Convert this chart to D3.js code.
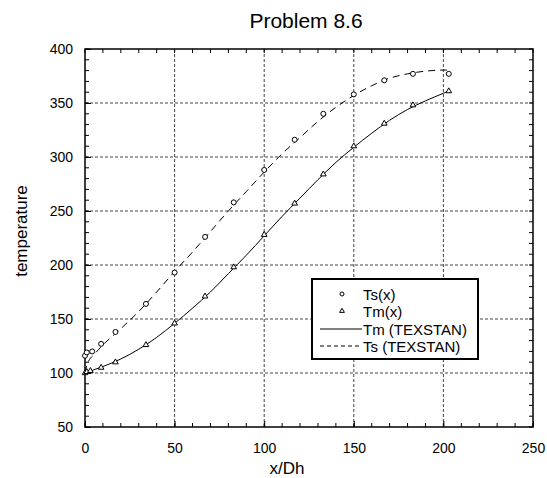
<!DOCTYPE html>
<html><head><meta charset="utf-8">
<script src="https://cdn.jsdelivr.net/npm/d3@7"></script>
<style>body{margin:0;background:#fff}</style>
</head><body>
<svg id="c" width="547" height="478"></svg>
<script>
const title = "Problem 8.6";
const xTicks = [0, 50, 100, 150, 200, 250];
const yTicks = [50, 100, 150, 200, 250, 300, 350, 400];

// measured points
const tsX = [0, 1, 4, 9, 17, 34, 50, 67, 83, 100, 117, 133, 150, 167, 183, 203];
const tsY = [116, 119, 120, 127, 138, 164, 193, 226, 258, 288, 316, 340, 358, 371, 377, 377];
const tmX = [0, 1, 3, 9, 17, 34, 50, 67, 83, 100, 117, 133, 150, 167, 183, 203];
const tmY = [100, 101, 102, 105, 110, 126, 146, 171, 198, 228, 257, 284, 310, 331, 348, 361];

// TEXSTAN curves
const lineX = [0, 1, 2, 5, 10, 20, 30, 40, 50, 60, 70, 80, 90, 100, 110, 120, 130, 140, 150, 160, 170, 180, 190, 200, 203];
const tmLine = [100, 100.5, 101, 103, 106, 113, 122, 133, 146, 160, 175, 192, 209, 227, 245, 262, 279, 295, 309, 322, 334, 344, 352, 359, 361];
const tsLine = [100, 107, 111, 117, 126, 141, 157, 175, 194, 212, 231, 250, 268, 286, 303, 318, 333, 346, 357, 366, 373, 377, 379.5, 380.5, 380.5];

const svg = d3.select("#c");
const L = 85, R = 533, T = 49, B = 427;
const x = d3.scaleLinear().domain([0, 250]).range([L, R]);
const y = d3.scaleLinear().domain([50, 400]).range([B, T]);
const font = "Liberation Sans, Arial, sans-serif";

// grid
const g = svg.append("g");
g.selectAll(".gx").data(xTicks.slice(1, -1)).enter().append("line")
  .attr("x1", d => x(d)).attr("x2", d => x(d)).attr("y1", T).attr("y2", B)
  .attr("stroke", "#444").attr("stroke-width", 1).attr("stroke-dasharray", "3,2");
g.selectAll(".gy").data(yTicks.slice(1, -1)).enter().append("line")
  .attr("y1", d => y(d)).attr("y2", d => y(d)).attr("x1", L).attr("x2", R)
  .attr("stroke", "#444").attr("stroke-width", 1).attr("stroke-dasharray", "3,2");

// axes with inward ticks
const xMinor = d3.range(0, 251, 10);
const yMinor = d3.range(50, 401, 10);
const bottom = d3.axisBottom(x).tickValues(xTicks).tickFormat(d3.format("d")).tickSizeInner(-6).tickSizeOuter(0).tickPadding(16);
const ax = svg.append("g").attr("transform", `translate(0,${B})`).call(bottom);
ax.select(".domain").remove();
const left = d3.axisLeft(y).tickValues(yTicks).tickFormat(d3.format("d")).tickSizeInner(-6).tickSizeOuter(0).tickPadding(12);
const ay = svg.append("g").attr("transform", `translate(${L},0)`).call(left);
ay.select(".domain").remove();
[ax, ay].forEach(a => {
  a.selectAll("text").attr("font-family", font).attr("font-size", 14).attr("fill", "#000");
  a.selectAll("line").attr("stroke", "#000");
});

// minor ticks on all four sides
const mt = svg.append("g").attr("stroke", "#000").attr("stroke-width", 1);
mt.selectAll(".mb").data(xMinor).enter().append("line")
  .attr("x1", d => x(d)).attr("x2", d => x(d)).attr("y1", B).attr("y2", B - 4);
mt.selectAll(".mt").data(xMinor).enter().append("line")
  .attr("x1", d => x(d)).attr("x2", d => x(d)).attr("y1", T).attr("y2", T + 4);
mt.selectAll(".ml").data(yMinor).enter().append("line")
  .attr("y1", d => y(d)).attr("y2", d => y(d)).attr("x1", L).attr("x2", L + 4);
mt.selectAll(".mr").data(yMinor).enter().append("line")
  .attr("y1", d => y(d)).attr("y2", d => y(d)).attr("x1", R).attr("x2", R - 4);

// frame
svg.append("rect").attr("x", L).attr("y", T).attr("width", R - L).attr("height", B - T)
  .attr("fill", "none").attr("stroke", "#000").attr("stroke-width", 1.5);

// lines
const lineGen = arr => d3.line().x((d, i) => x(lineX[i])).y(d => y(d)).curve(d3.curveMonotoneX)(arr);
svg.append("path").attr("d", lineGen(tmLine)).attr("fill", "none").attr("stroke", "#000").attr("stroke-width", 1);
svg.append("path").attr("d", lineGen(tsLine)).attr("fill", "none").attr("stroke", "#000").attr("stroke-width", 1).attr("stroke-dasharray", "7,5");

// markers
svg.selectAll(".ts").data(tsX).enter().append("circle")
  .attr("cx", d => x(d)).attr("cy", (d, i) => y(tsY[i])).attr("r", 2.5)
  .attr("fill", "#fff").attr("stroke", "#000").attr("stroke-width", 1);
const tri = d3.symbol().type(d3.symbolTriangle).size(14);
svg.selectAll(".tm").data(tmX).enter().append("path")
  .attr("d", tri).attr("transform", (d, i) => `translate(${x(d)},${y(tmY[i])})`)
  .attr("fill", "#fff").attr("stroke", "#000").attr("stroke-width", 1);

// title & labels
svg.append("text").attr("x", 306).attr("y", 28).attr("text-anchor", "middle")
  .attr("font-family", font).attr("font-size", 21).text(title);
svg.append("text").attr("x", 287).attr("y", 474).attr("text-anchor", "middle")
  .attr("font-family", font).attr("font-size", 17).text("x/Dh");
svg.append("text").attr("transform", "translate(27,231) rotate(-90)").attr("text-anchor", "middle")
  .attr("font-family", font).attr("font-size", 17).text("temperature");

// legend
const lg = svg.append("g");
lg.append("rect").attr("x", 312).attr("y", 279).attr("width", 166).attr("height", 80)
  .attr("fill", "#fff").attr("stroke", "#000").attr("stroke-width", 2);
const items = [
  {label: "Ts(x)", type: "circle"},
  {label: "Tm(x)", type: "tri"},
  {label: "Tm (TEXSTAN)", type: "solid"},
  {label: "Ts (TEXSTAN)", type: "dash"}
];
const rowY = [294, 311, 329, 346];
items.forEach((it, i) => {
  const yy = rowY[i];
  if (it.type === "circle") lg.append("circle").attr("cx", 342).attr("cy", yy).attr("r", 2).attr("fill", "#fff").attr("stroke", "#000");
  if (it.type === "tri") lg.append("path").attr("d", d3.symbol().type(d3.symbolTriangle).size(10)).attr("transform", `translate(342,${yy})`).attr("fill", "#fff").attr("stroke", "#000");
  if (it.type === "solid") lg.append("line").attr("x1", 320).attr("x2", 362).attr("y1", yy).attr("y2", yy).attr("stroke", "#000");
  if (it.type === "dash") lg.append("line").attr("x1", 320).attr("x2", 362).attr("y1", yy).attr("y2", yy).attr("stroke", "#000").attr("stroke-dasharray", "4,3");
  lg.append("text").attr("x", 363).attr("y", yy + 5.5).attr("font-family", font).attr("font-size", 15).text(it.label);
});
</script>
</body></html>
